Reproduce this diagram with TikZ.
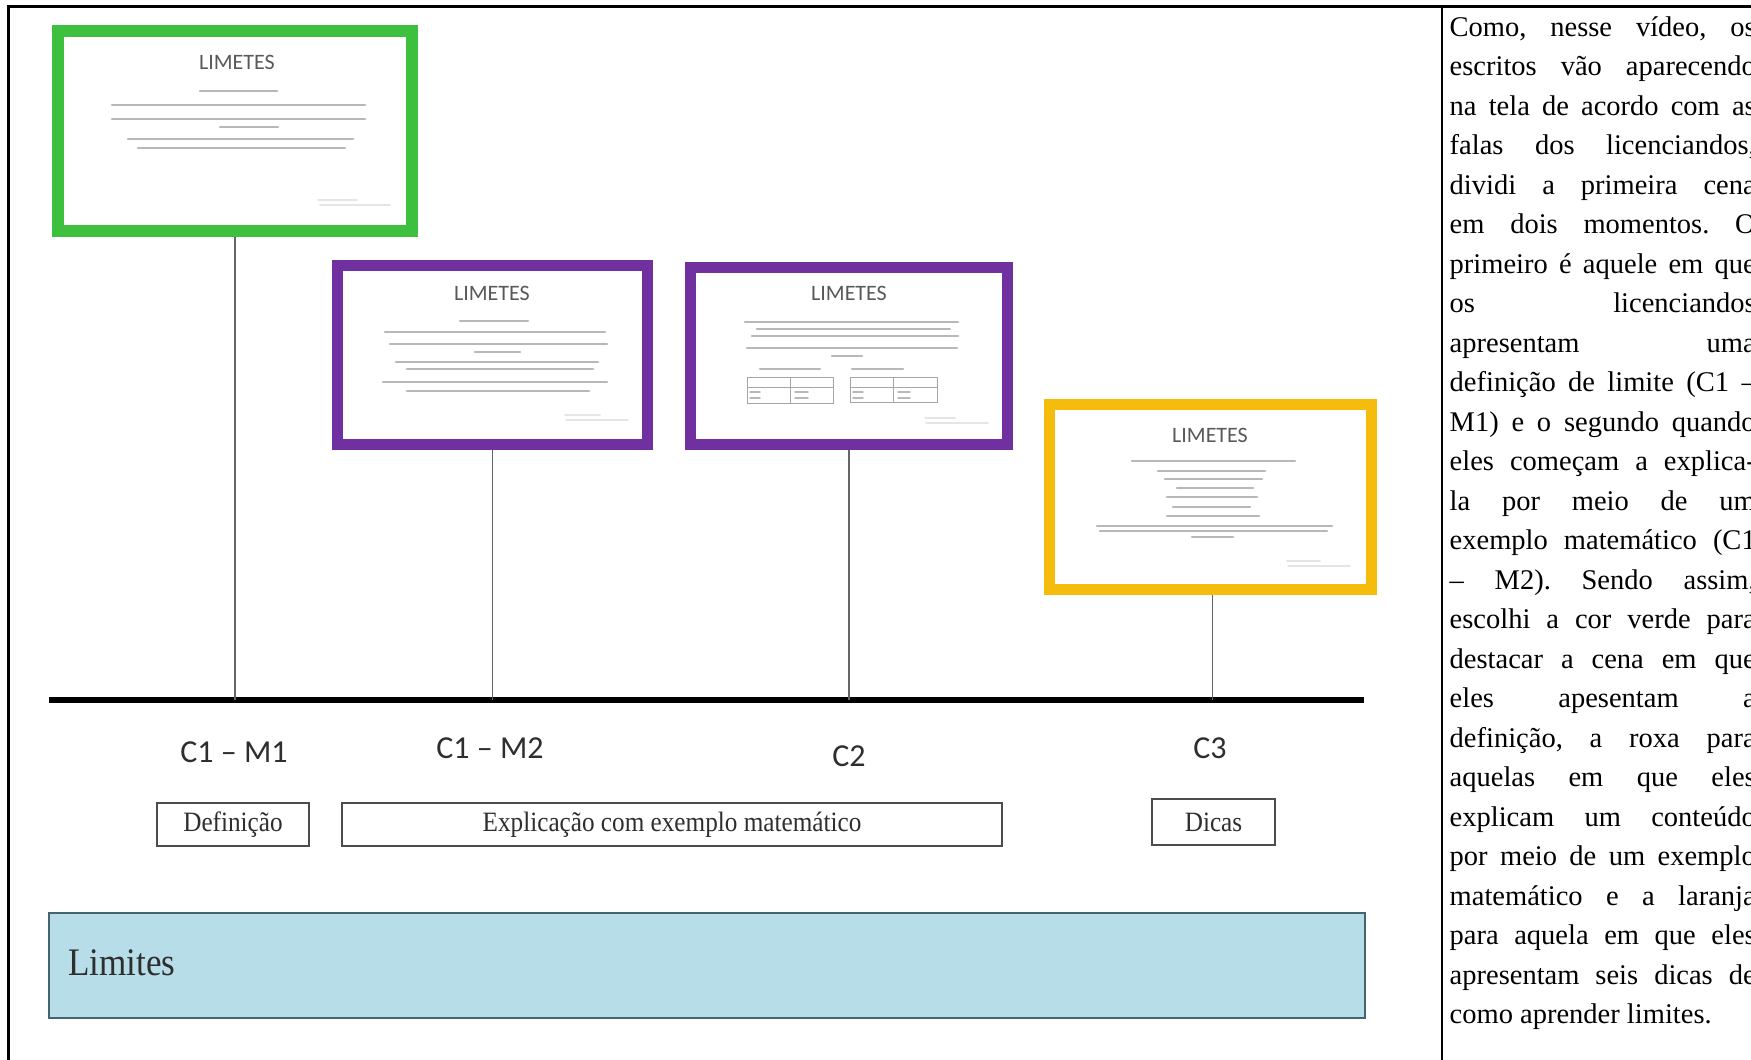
\documentclass[tikz,border=0pt]{standalone}
\usepackage{fontspec}
\setmainfont{Liberation Serif}
\newfontfamily\slidefont{Carlito}
\newfontfamily\boxfont[FakeStretch=0.9]{Liberation Serif}
\newlength\colw
\setlength\colw{306pt}
\frenchspacing
\definecolor{slidegreen}{RGB}{61,192,61}
\definecolor{slidepurple}{RGB}{112,48,160}
\definecolor{slidegold}{RGB}{245,188,12}
\definecolor{barblue}{RGB}{183,222,232}
\definecolor{barline}{RGB}{70,100,110}
\begin{document}
\begin{tikzpicture}[x=1pt,y=-1pt,
  slide/.style={draw=#1, line width=11pt, fill=white, inner sep=0pt},
  slidetitle/.style={font=\slidefont\fontsize{22}{22}\selectfont, text=black!65, inner sep=0pt},
  txtbar/.style={draw=black!28, line width=2.2pt, line cap=round},
  tblline/.style={draw=black!35, line width=0.8pt},
  connector/.style={draw=black!60, line width=1.6pt},
  clabel/.style={font=\slidefont\fontsize{32}{32}\selectfont, text=black!82, inner sep=0pt},
  catbox/.style={draw=black!70, line width=1.4pt, fill=white, inner sep=0pt,
    font=\boxfont\fontsize{28}{28}\selectfont, text=black!82},
  noteline/.style={anchor=base west, inner sep=0pt, font=\fontsize{28.5}{28.5}\selectfont}
]
\useasboundingbox (0,0) rectangle (1751,1060);
\fill[white] (0,0) rectangle (1751,1060);

% table frame
\draw[line width=2.4pt] (8.5,1060) -- (8.5,6.5) -- (1751,6.5);
\draw[line width=2.6pt] (1442,6.5) -- (1442,1060);

% timeline
\coordinate (tlL) at (49,700);
\coordinate (tlR) at (1364,700);
\draw[line width=5.5pt] (tlL) -- (tlR);

% slides
\node[slide=slidegreen, line width=12pt, minimum width=354pt, minimum height=200pt] (g) at (235,131) {};
\node[slide=slidepurple, minimum width=310pt, minimum height=179pt] (p1) at (492.5,355) {};
\node[slide=slidepurple, minimum width=317pt, minimum height=177pt] (p2) at (849,356) {};
\node[slide=slidegold, minimum width=322pt, minimum height=185pt] (y) at (1210.5,497) {};

% slide titles
\node[slidetitle] (gt) at (237,62) {LIMETES};
\node[slidetitle] (p1t) at (492,293) {LIMETES};
\node[slidetitle] (p2t) at (849,293) {LIMETES};
\node[slidetitle] (yt) at (1210,435) {LIMETES};

% small print on the slides
\foreach \ya/\xa/\xb in {91/200/277, 105/112/365, 119/112/365, 127/220/278, 139/128/353, 148/138/345}
  \draw[txtbar] (\xa,\ya) -- (\xb,\ya);
\draw[txtbar, draw=black!10, line width=1.5pt] (318,200) -- (357,200);
\draw[txtbar, draw=black!10, line width=1.5pt] (320,205) -- (390,205);

\foreach \ya/\xa/\xb in {321/460/528, 332/385/605, 344/390/607, 352/475/520, 362/396/598, 369/407/593, 382/383/607, 391/407/589}
  \draw[txtbar] (\xa,\ya) -- (\xb,\ya);
\draw[txtbar, draw=black!10, line width=1.5pt] (565,415) -- (600,415);
\draw[txtbar, draw=black!10, line width=1.5pt] (566,420) -- (628,420);

\foreach \ya/\xa/\xb in {322/745/958, 329/757/950, 336/752/958, 348/747/957, 356/832/862, 369/760/820, 369/852/903}
  \draw[txtbar] (\xa,\ya) -- (\xb,\ya);
\draw[tblline] (747,377) rectangle (833,403);
\draw[tblline] (790,377) -- (790,403);
\draw[tblline] (747,387) -- (833,387);
\draw[tblline] (850,377) rectangle (937,402);
\draw[tblline] (893,377) -- (893,402);
\draw[tblline] (850,387) -- (937,387);
\foreach \xa/\xb in {750/760, 795/808, 853/863, 898/910}{
  \draw[txtbar, line width=1.4pt] (\xa,392) -- (\xb,392);
  \draw[txtbar, line width=1.4pt] (\xa,398) -- (\xb,398);
}
\draw[txtbar, draw=black!10, line width=1.5pt] (925,418) -- (955,418);
\draw[txtbar, draw=black!10, line width=1.5pt] (926,423) -- (988,423);

\foreach \ya/\xa/\xb in {461/1132/1295, 471/1158/1265, 479/1165/1262, 488/1177/1253, 497/1167/1257, 507/1173/1250, 516/1167/1259, 526/1097/1332, 531/1100/1327, 537/1192/1233}
  \draw[txtbar] (\xa,\ya) -- (\xb,\ya);
\draw[txtbar, draw=black!10, line width=1.5pt] (1287,561) -- (1320,561);
\draw[txtbar, draw=black!10, line width=1.5pt] (1288,566) -- (1350,566);

% connectors from the slides to the timeline
\coordinate (yc) at ([xshift=2pt]y.south);
\draw[connector] (g.south) -- (g.south |- tlL);
\draw[connector] (p1.south) -- (p1.south |- tlL);
\draw[connector] (p2.south) -- (p2.south |- tlL);
\draw[connector] (yc) -- (yc |- tlL);

% scene labels
\node[clabel] (c1m1) at (234,752) {C1 – M1};
\node[clabel] (c1m2) at (490,748) {C1 – M2};
\node[clabel] (c2) at (849,756) {C2};
\node[clabel] (c3) at (1210,748) {C3};

% categories
\node[catbox, minimum width=152pt, minimum height=43pt] (def) at (233,824.5) {Definição};
\node[catbox, minimum width=660pt, minimum height=43pt] (expl) at (672,824.5) {Explicação com exemplo matemático};
\node[catbox, minimum width=123pt, minimum height=46pt] (dicas) at (1213.5,822) {Dicas};

% topic bar
\node[draw=barline, fill=barblue, line width=1.8pt, inner sep=0pt,
  minimum width=1316pt, minimum height=105pt] (bar) at (707,965.5) {};
\node[anchor=west, inner sep=0pt, font=\boxfont\fontsize{39}{39}\selectfont, text=black!82] (bartxt) at ([xshift=20pt,yshift=3pt]bar.west) {Limites};

% commentary column
\begin{scope}
\clip (1444,8) rectangle (1751,1060);
\foreach \t [count=\i] in {%
  {Como, nesse vídeo, os},
  {escritos vão aparecendo},
  {na tela de acordo com as},
  {falas dos licenciandos,},
  {dividi a primeira cena},
  {em dois momentos. O},
  {primeiro é aquele em que},
  {os licenciandos},
  {apresentam uma},
  {definição de limite (C1 –},
  {M1) e o segundo quando},
  {eles começam a explica-},
  {la por meio de um},
  {exemplo matemático (C1},
  {– M2). Sendo assim,},
  {escolhi a cor verde para},
  {destacar a cena em que},
  {eles apesentam a},
  {definição, a roxa para},
  {aquelas em que eles},
  {explicam um conteúdo},
  {por meio de um exemplo},
  {matemático e a laranja},
  {para aquela em que eles},
  {apresentam seis dicas de}}
  \node[noteline] (n\i) at (1449.5,{36+39.5*(\i-1)}) {\makebox[\colw][s]{\t}};
\node[noteline] (n26) at (1449.5,{36+39.5*25}) {como aprender limites.};
\end{scope}
\end{tikzpicture}
\end{document}
